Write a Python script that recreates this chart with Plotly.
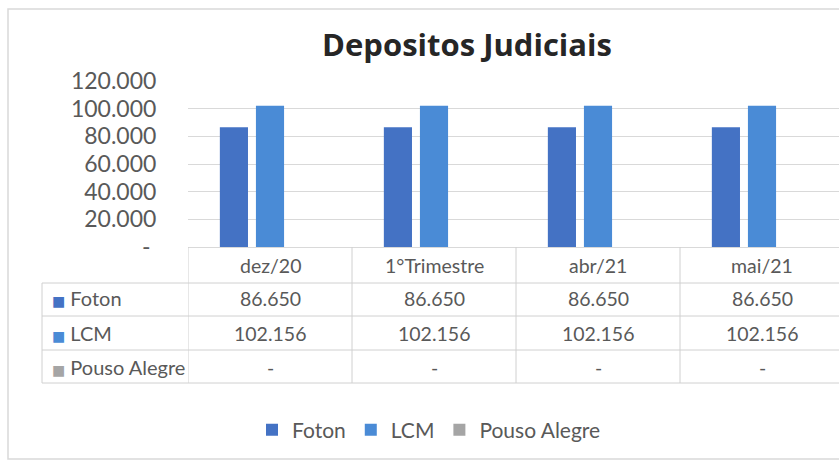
import plotly.graph_objects as go

categories = ["dez/20", "1°Trimestre", "abr/21", "mai/21"]
series_names = ["Foton", "LCM", "Pouso Alegre"]
foton = [86650, 86650, 86650, 86650]
lcm = [102156, 102156, 102156, 102156]
pouso_alegre = [0, 0, 0, 0]
y_tickvals = [0, 20000, 40000, 60000, 80000, 100000, 120000]
colors = ["#4472C4", "#4A8BD6", "#A5A5A5"]

series_values = [foton, lcm, pouso_alegre]


def fmt(v):
    return "-" if v == 0 else f"{v:,}".replace(",", ".")


W, H = 839, 463
L, T, B = 188, 81, 216
plot_h = H - T - B  # 166
plot_w = W - L       # 651


def py(p):  # pixel y -> paper y
    return (H - B - p) / plot_h


def px(p):  # pixel x -> paper x
    return (p - L) / plot_w


fig = go.Figure()
x_idx = list(range(len(categories)))
for name, vals, col in zip(series_names, series_values, colors):
    fig.add_trace(go.Bar(x=x_idx, y=vals, name=name, marker_color=col,
                         marker_line_width=0))

txt_col = "#595959"
font_fam = "Lato, 'DejaVu Sans', sans-serif"
ann = []
# category header row
for i, c in enumerate(categories):
    ann.append(dict(x=i, y=py(265), xref="x", yref="paper", text=c,
                    showarrow=False, font=dict(size=19.5, color=txt_col, family=font_fam),
                    xanchor="center", yanchor="middle"))
# data rows
row_centers = [298, 333, 367]
for r, (name, vals, col) in enumerate(zip(series_names, series_values, colors)):
    ann.append(dict(x=px(50), y=py(row_centers[r]), xref="paper", yref="paper",
                    text=f"<span style='color:{col};font-size:14px'>■</span> {name}",
                    showarrow=False, font=dict(size=20, color=txt_col, family=font_fam),
                    xanchor="left", yanchor="middle"))
    for i, v in enumerate(vals):
        ann.append(dict(x=i, y=py(row_centers[r]), xref="x", yref="paper", text=fmt(v),
                        showarrow=False, font=dict(size=19.5, color=txt_col, family=font_fam),
                        xanchor="center", yanchor="middle"))

line_col = "#D0D0D0"
shapes = []
# horizontal table lines
for yy in [283, 316, 350, 383]:
    shapes.append(dict(type="line", xref="paper", yref="paper", x0=px(42), x1=1.02,
                       y0=py(yy), y1=py(yy), line=dict(color=line_col, width=1)))
# vertical lines at category boundaries
for xb in [-0.5, 0.5, 1.5, 2.5, 3.5]:
    shapes.append(dict(type="line", xref="x", yref="paper", x0=xb, x1=xb,
                       y0=0, y1=py(383), line=dict(color=line_col, width=1)))
shapes.append(dict(type="line", xref="paper", yref="paper", x0=px(42), x1=px(42),
                   y0=py(283), y1=py(383), line=dict(color=line_col, width=1)))
# outer frame
shapes.append(dict(type="rect", xref="paper", yref="paper", x0=px(8), x1=1.02,
                   y0=py(459), y1=py(9), line=dict(color="#D9D9D9", width=1.5)))

fig.update_layout(
    width=W, height=H,
    margin=dict(l=L, r=0, t=T, b=B, pad=0),
    paper_bgcolor="white", plot_bgcolor="white",
    title=dict(text="<b>Depositos Judiciais</b>", x=px(467), xref="paper", xanchor="center",
               y=1 - 45 / H, yref="container", yanchor="middle",
               font=dict(size=31, color="#262626", family="'Open Sans', sans-serif")),
    barmode="group", bargap=0.34, bargroupgap=0.22,
    xaxis=dict(range=[-0.5, -0.5 + plot_w / 164], showticklabels=False, showgrid=False,
               zeroline=False, showline=True, linecolor="#D9D9D9", fixedrange=True),
    yaxis=dict(range=[0, 120000], tickvals=y_tickvals,
               ticktext=[fmt(v) if v else "-\u00a0" for v in y_tickvals],
               showgrid=True, gridcolor="#D9D9D9", gridwidth=1, zeroline=False,
               ticks="outside", ticklen=26, tickcolor="rgba(0,0,0,0)",
               tickfont=dict(size=23, color=txt_col, family=font_fam)),
    legend=dict(orientation="h", x=px(429), xanchor="center", y=py(430), yanchor="middle",
                font=dict(size=21, color=txt_col, family=font_fam),
                itemclick=False, traceorder="normal"),
    annotations=ann, shapes=shapes,
)

fig.write_html("out.html", config={"displayModeBar": False},
               post_script="document.body.style.margin='0';")
